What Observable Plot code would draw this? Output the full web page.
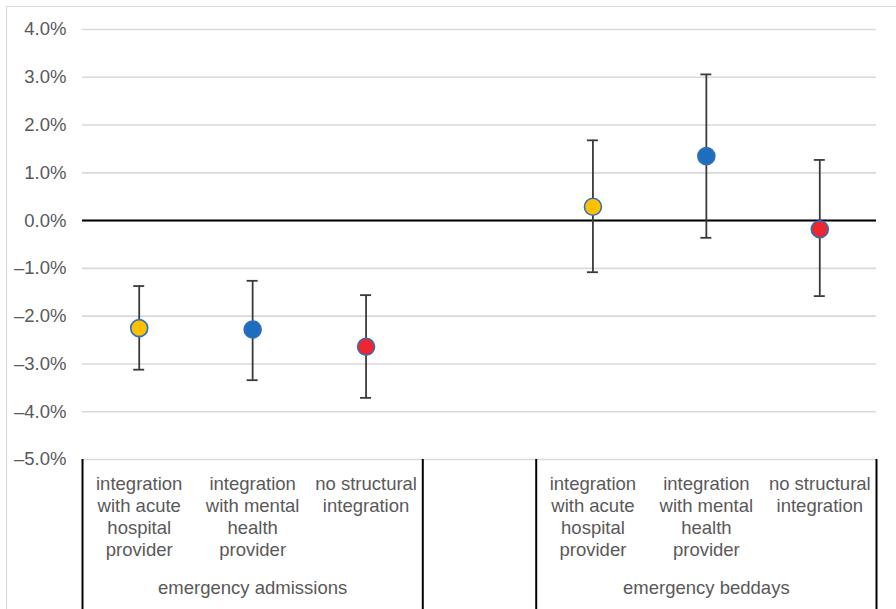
<!DOCTYPE html>
<html>
<head>
<meta charset="utf-8">
<script src="https://cdn.jsdelivr.net/npm/d3@7"></script>
<script src="https://cdn.jsdelivr.net/npm/@observablehq/plot@0.6"></script>
<style>
  html, body { margin: 0; padding: 0; background: #fff; overflow: hidden; }
  #wrap { position: relative; width: 896px; height: 609px; }
  #frame { position: absolute; left: 6px; top: 6px; width: 1000px; height: 1000px;
           border-left: 1.5px solid #d9d9d9; border-top: 1.5px solid #d9d9d9; pointer-events: none; }
</style>
</head>
<body>
<div id="wrap"><div id="frame"></div></div>
<script>
// ---- data (percent) ----
const groups = ["emergency admissions", "emergency beddays"];
const categories = [
  "integration\nwith acute\nhospital\nprovider",
  "integration\nwith mental\nhealth\nprovider",
  "no structural\nintegration"
];
const admissionsEstimate = [-2.25, -2.28, -2.64];
const admissionsLower    = [-3.12, -3.34, -3.71];
const admissionsUpper    = [-1.37, -1.26, -1.56];
const beddaysEstimate    = [0.29, 1.35, -0.18];
const beddaysLower       = [-1.08, -0.36, -1.58];
const beddaysUpper       = [1.68, 3.06, 1.27];
const yTickValues = [-5, -4, -3, -2, -1, 0, 1, 2, 3, 4];

// ---- build table ----
const series = [
  {group: groups[0], est: admissionsEstimate, lo: admissionsLower, hi: admissionsUpper},
  {group: groups[1], est: beddaysEstimate, lo: beddaysLower, hi: beddaysUpper}
];
const rows = [];
series.forEach(s => categories.forEach((c, i) => rows.push({
  key: s.group + "|" + i, group: s.group, cat: c, value: s.est[i], lo: s.lo[i], hi: s.hi[i]
})));
const GAP = "gap";
const xDomain = [...rows.slice(0, 3).map(d => d.key), GAP, ...rows.slice(3).map(d => d.key)];

const W = 896, H = 609, mL = 82, mR = 20, mT = 29, mB = 150;
const bw = (W - mL - mR) / xDomain.length;

// separators at group edges
const edges = [
  {key: rows[0].key, side: -1}, {key: rows[2].key, side: 1},
  {key: rows[3].key, side: -1}, {key: rows[5].key, side: 1}
];
const groupCenters = [rows[1], rows[4]];

const fmt = v => (v < 0 ? "\u2013" : "") + Math.abs(v).toFixed(1) + "%";
const textColor = "#595959";

const chart = Plot.plot({
  width: W, height: H,
  marginLeft: mL, marginRight: mR, marginTop: mT, marginBottom: mB,
  style: {fontFamily: "'Liberation Sans', Arial, sans-serif", fontSize: "18.5px", color: textColor, background: "transparent"},
  x: {type: "band", domain: xDomain, padding: 0, round: false, axis: null},
  y: {domain: [-5, 4], axis: null},
  color: {domain: categories, range: ["#FFC000", "#1F6DBE", "#EE2630"]},
  marks: [
    Plot.gridY(yTickValues, {stroke: "#d9d9d9", strokeOpacity: 1, strokeWidth: 1.6}),
    Plot.axisY(yTickValues, {tickSize: 0, tickPadding: 16, tickFormat: fmt, fill: textColor, fontSize: 18.5}),
    Plot.ruleY([0], {stroke: "#000", strokeWidth: 2}),
    Plot.ruleX(rows, {x: "key", y1: "lo", y2: "hi", stroke: "#3a3a3a", strokeWidth: 1.8}),
    Plot.tickY(rows, {x: "key", y: "lo", stroke: "#3a3a3a", strokeWidth: 1.8, insetLeft: (bw - 11) / 2, insetRight: (bw - 11) / 2}),
    Plot.tickY(rows, {x: "key", y: "hi", stroke: "#3a3a3a", strokeWidth: 1.8, insetLeft: (bw - 11) / 2, insetRight: (bw - 11) / 2}),
    Plot.dot(rows, {x: "key", y: "value", r: 8.5, fill: "cat", stroke: "#2E6FBA", strokeWidth: 1.6}),
    Plot.ruleX(edges, {x: "key", stroke: "#000", strokeWidth: 2,
      insetTop: H - mT - mB, insetBottom: -mB}),
    Plot.text(rows, {x: "key", text: "cat", frameAnchor: "bottom", lineAnchor: "top", dy: 15,
      lineHeight: 1.19, fill: textColor, fontSize: 18.5}),
    Plot.text(groupCenters, {x: "key", text: "group", frameAnchor: "bottom", lineAnchor: "top", dy: 121,
      fill: textColor, fontSize: 18.5})
  ]
});

document.getElementById("wrap").appendChild(chart);
// shift separator rules from band centres to band edges
d3.select(chart).selectAll("g[aria-label='rule']").filter((d, i, n) =>
  d3.select(n[i]).selectAll("line").size() === edges.length
).selectAll("line").each(function(_, i) {
  const sel = d3.select(this);
  const off = edges[i].side * bw / 2;
  const x1 = +sel.attr("x1");
  if (!isNaN(x1)) { sel.attr("x1", x1 + off).attr("x2", +sel.attr("x2") + off); }
});
</script>
</body>
</html>
